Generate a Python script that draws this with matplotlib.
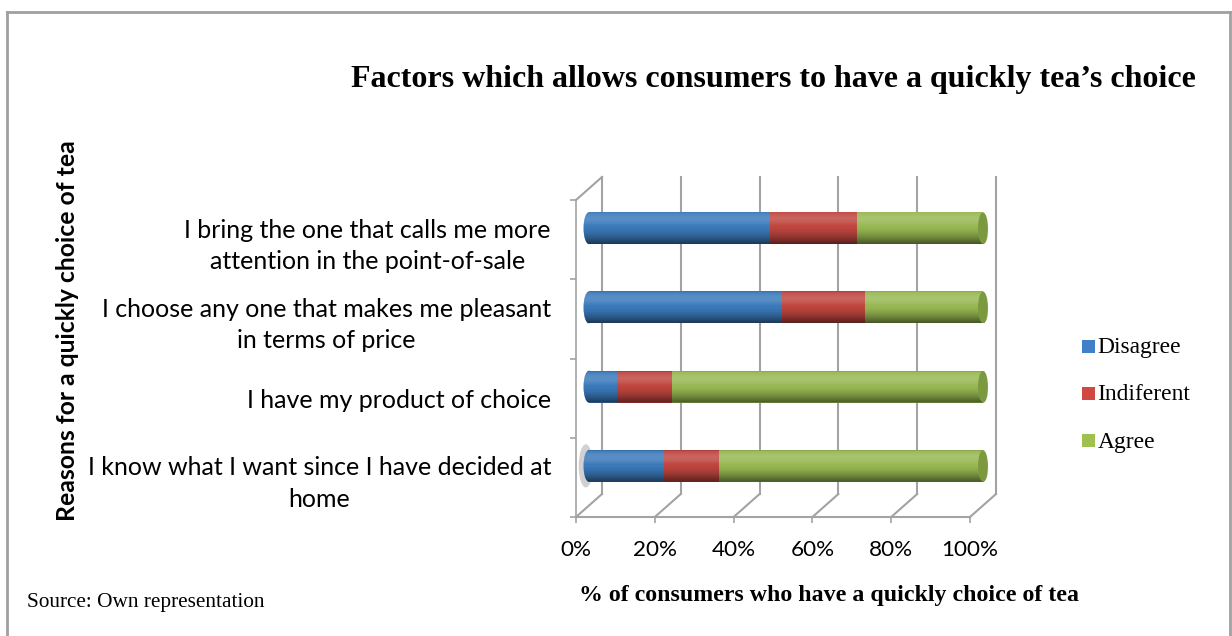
import numpy as np
import matplotlib
matplotlib.use("Agg")
import matplotlib.pyplot as plt
from matplotlib.patches import Ellipse, Polygon, Patch
from matplotlib.lines import Line2D

# ---------------- data ----------------
categories = [
    "I know what I want since I have decided at\nhome",
    "I have my product of choice",
    "I choose any one that makes me pleasant\nin terms of price",
    "I bring the one that calls me more\nattention in the point-of-sale",
]
disagree = [19, 7, 49, 46]
indifferent = [14, 14, 21, 22]
agree = [67, 79, 30, 32]
series_names = ["Disagree", "Indiferent", "Agree"]
xticks = [0, 20, 40, 60, 80, 100]
xticklabels = ["0%", "20%", "40%", "60%", "80%", "100%"]

title = "Factors which allows consumers to have a quickly tea\u2019s choice"
xlabel = "% of consumers who have a quickly choice of tea"
ylabel = "Reasons for a quickly choice of tea"
source = "Source: Own representation"

colors = ["#3b7abb", "#c0463f", "#97b852"]
cap_color = "#7b9a3f"
legend_colors = ["#3f80c8", "#d0483f", "#a0c050"]
gray = "#a3a3a3"
SERIF = "Liberation Serif"
SANS = "Lato"

W, H = 1232, 636
fig = plt.figure(figsize=(W / 100, H / 100), dpi=100)
fig.patch.set_facecolor("white")

# front box of the 3-D chart
ax_l, ax_r, ax_t, ax_b = 576, 970, 200, 517
ax = fig.add_axes([ax_l / W, 1 - ax_b / H, (ax_r - ax_l) / W, (ax_b - ax_t) / H])
ax.set_xlim(0, 100)
ax.set_ylim(-0.5, len(categories) - 0.5)
for s in ax.spines.values():
    s.set_visible(False)
ax.patch.set_visible(False)

pxx = (ax_r - ax_l) / 100.0
pxy = (ax_b - ax_t) / len(categories)
DX = 26 / pxx
DY = 23 / pxy
ylo, yhi = -0.5, len(categories) - 0.5

# walls / floor
lw = 1.5
for x in xticks:
    ax.plot([x + DX, x + DX], [ylo + DY, yhi + DY], color=gray, lw=lw, zorder=1, clip_on=False)
    ax.plot([x, x + DX], [ylo, ylo + DY], color=gray, lw=lw, zorder=1, clip_on=False)
ax.plot([0, 100], [ylo, ylo], color=gray, lw=lw, zorder=1, clip_on=False)
ax.plot([0, 0], [ylo, yhi], color=gray, lw=1.2, zorder=1, clip_on=False)
ax.plot([0, DX], [yhi, yhi + DY], color=gray, lw=lw, zorder=1, clip_on=False)

# bars (cylinders)
bh = 32 / pxy
ew = 11 / pxx
xoff = DX / 2
t = np.linspace(0, 1, 200)
grad = np.zeros((200, 1, 4))
for k, tt in enumerate(t):
    if tt < 0.45:
        a = 0.16 * np.sin(np.pi * tt / 0.45)
        grad[k, 0] = [1, 1, 1, a]
    else:
        a = 0.55 * ((tt - 0.45) / 0.55) ** 1.6
        grad[k, 0] = [0, 0, 0, a]
grad[:6, 0] = [0, 0, 0, 0.12]

series = [disagree, indifferent, agree]
for i in range(len(categories)):
    yc = i + DY / 2
    vals = [s[i] for s in series]
    total = sum(vals)
    if i == 0:
        ax.add_patch(Ellipse((xoff - 0.8, yc), width=ew * 1.3, height=bh * 1.35,
                             facecolor="#9a9a9a", alpha=0.45, edgecolor="none",
                             zorder=2.5, clip_on=False))
    left = 0
    for v, c in zip(vals, colors):
        ax.barh(yc, v, left=left + xoff, height=bh, color=c, edgecolor="none",
                zorder=3, clip_on=False)
        left += v
    ax.add_patch(Ellipse((xoff, yc), width=ew, height=bh, facecolor=colors[0],
                         edgecolor="none", zorder=2.9, clip_on=False))
    # capsule clip path for the shading
    th = np.linspace(np.pi / 2, 3 * np.pi / 2, 40)
    lx = xoff + ew / 2 * np.cos(th)
    ly = yc + bh / 2 * np.sin(th)
    th2 = np.linspace(-np.pi / 2, np.pi / 2, 40)
    rx = xoff + total + ew / 2 * np.cos(th2)
    ry = yc + bh / 2 * np.sin(th2)
    cap = Polygon(np.column_stack([np.r_[lx, rx], np.r_[ly, ry]]), closed=True,
                  facecolor="none", edgecolor="none", transform=ax.transData,
                  clip_on=False)
    ax.add_patch(cap)
    im = ax.imshow(grad, extent=[xoff - ew, xoff + total + ew, yc - bh / 2, yc + bh / 2],
                   aspect="auto", zorder=4, interpolation="bilinear")
    im.set_clip_box(fig.bbox)
    im.set_clip_path(cap)
    ax.add_patch(Ellipse((xoff + total, yc), width=ew * 0.9, height=bh * 0.98,
                         facecolor=cap_color, edgecolor="none", zorder=5, clip_on=False))

ax.set_xlim(0, 100)
ax.set_ylim(-0.5, len(categories) - 0.5)

# ticks
ax.set_xticks(xticks, xticklabels)
ax.set_yticks(range(len(categories)), categories)
ax.set_yticks(np.arange(-0.5, len(categories)), minor=True)
ax.tick_params(axis="y", which="major", length=0, pad=18)
ax.tick_params(axis="y", which="minor", length=4, color=gray, width=1.2)
ax.tick_params(axis="x", which="major", length=4, color=gray, width=1.2, pad=12)
for lb in ax.get_yticklabels():
    lb.set_family(SANS)
    lb.set_multialignment("center")
    lb.set_linespacing(1.45)
for lb in ax.get_xticklabels():
    lb.set_family(SANS)

# texts
t_title = fig.text(773 / W, 1 - 80 / H, title, ha="center", va="center",
                   fontsize=21, fontweight="bold", family=SERIF)
t_x = fig.text(829 / W, 1 - 596 / H, xlabel, ha="center", va="center",
               fontsize=15, fontweight="bold", family=SERIF)
t_y = fig.text(68 / W, 1 - 331 / H, ylabel, ha="center", va="center", rotation=90,
               fontsize=15, fontweight="bold", family=SANS)
t_src = fig.text(27 / W, 1 - 603 / H, source, ha="left", va="center",
                 fontsize=13, family=SERIF)

handles = [Patch(facecolor=c, edgecolor="none") for c in legend_colors]
leg = fig.legend(handles, series_names, loc="center left",
                 bbox_to_anchor=(1082 / W, 1 - 395 / H), bbox_transform=fig.transFigure,
                 frameon=False, handlelength=0.65, handleheight=0.65, handletextpad=0.15,
                 labelspacing=1.35, borderpad=0, borderaxespad=0,
                 prop={"family": SERIF, "size": 14})

# border
bc = "#a0a0a0"
fig.add_artist(Line2D([7 / W, 7 / W], [0, 1 - 12 / H], color=bc, lw=2))
fig.add_artist(Line2D([7 / W, 1230 / W], [1 - 12 / H, 1 - 12 / H], color=bc, lw=2))
fig.add_artist(Line2D([1230 / W, 1230 / W], [0, 1 - 12 / H], color=bc, lw=2))


# ---- fit text sizes to the reference extents ----
def fit(txt, target, horiz=True):
    for _ in range(2):
        fig.canvas.draw()
        bb = txt.get_window_extent()
        w = bb.width if horiz else bb.height
        txt.set_fontsize(txt.get_fontsize() * target / w)


fit(t_title, 844)
fit(t_x, 498)
fit(t_y, 382, horiz=False)
fit(t_src, 238)
for _ in range(2):
    fig.canvas.draw()
    w = ax.get_yticklabels()[3].get_window_extent().width
    ax.tick_params(axis="y", which="major", labelsize=ax.get_yticklabels()[3].get_fontsize() * 367 / w)
    fig.canvas.draw()
    w = ax.get_xticklabels()[5].get_window_extent().width
    ax.tick_params(axis="x", which="major", labelsize=ax.get_xticklabels()[5].get_fontsize() * 57 / w)
fig.canvas.draw()
wl = leg.get_texts()[0].get_window_extent().width
for lb in leg.get_texts():
    lb.set_fontsize(14 * 84 / wl)

# position tick labels
for _ in range(2):
    fig.canvas.draw()
    bb = ax.get_yticklabels()[3].get_window_extent()
    right_px = bb.x1
    want = 551
    cur_pad = ax.yaxis.get_major_ticks()[0].get_pad()
    ax.tick_params(axis="y", which="major", pad=cur_pad + (right_px - want) * 0.72)
    fig.canvas.draw()
    bb = ax.get_xticklabels()[0].get_window_extent()
    cy = H - (bb.y0 + bb.y1) / 2
    cur_pad = ax.xaxis.get_major_ticks()[0].get_pad()
    ax.tick_params(axis="x", which="major", pad=cur_pad + (550 - cy) * 0.72)

fig.savefig("out.png", dpi=100)
